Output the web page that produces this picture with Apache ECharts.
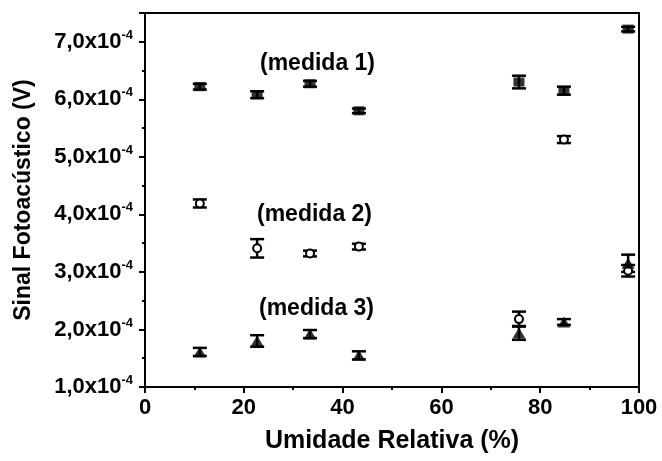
<!DOCTYPE html>
<html>
<head>
<meta charset="utf-8">
<script src="https://cdn.jsdelivr.net/npm/echarts@6/dist/echarts.min.js"></script>
<style>html,body{margin:0;padding:0;background:#fff}#c{width:662px;height:461px}</style>
</head>
<body>
<div id="c"></div>
<script>
// Relative humidity (%)
const humidity = [11.1, 22.7, 33.4, 43.3, 75.7, 84.8, 97.8];
// Photoacoustic signal, in units of 1e-4 V
const medida1 = [6.22, 6.08, 6.27, 5.80, 6.30, 6.15, 7.22];
const erro1   = [0.05, 0.06, 0.05, 0.04, 0.11, 0.07, 0.04];
const medida2 = [4.19, 3.41, 3.32, 3.44, 2.18, 5.30, 3.02];
const erro2   = [0.07, 0.16, 0.05, 0.05, 0.13, 0.06, 0.10];
const medida3 = [1.61, 1.80, 1.92, 1.55, 1.94, 2.13, 3.15];
const erro3   = [0.07, 0.10, 0.07, 0.07, 0.12, 0.05, 0.15];
const seriesLabels = ['(medida 1)', '(medida 2)', '(medida 3)'];
const xTitle = 'Umidade Relativa (%)';
const yTitle = 'Sinal Fotoacústico (V)';

const FONT = '"Liberation Sans", Arial, sans-serif';

function pts(vals) { return humidity.map((x, i) => [x, vals[i]]); }
function errs(vals, e) { return humidity.map((x, i) => [x, vals[i] - e[i], vals[i] + e[i]]); }

function errorSeries(vals, e, cap) {
  return {
    type: 'custom',
    data: errs(vals, e),
    z: 3,
    renderItem: function (params, api) {
      const x = api.value(0);
      const lo = api.coord([x, api.value(1)]);
      const hi = api.coord([x, api.value(2)]);
      const style = { stroke: '#000', lineWidth: 2.5 };
      return {
        type: 'group',
        children: [
          { type: 'line', shape: { x1: lo[0], y1: lo[1], x2: hi[0], y2: hi[1] }, style },
          { type: 'line', shape: { x1: lo[0] - cap, y1: lo[1], x2: lo[0] + cap, y2: lo[1] }, style },
          { type: 'line', shape: { x1: hi[0] - cap, y1: hi[1], x2: hi[0] + cap, y2: hi[1] }, style }
        ]
      };
    }
  };
}

const chart = echarts.init(document.getElementById('c'), null, { renderer: 'canvas' });
chart.setOption({
  animation: false,
  backgroundColor: '#fff',
  grid: { left: 145, right: 23, top: 13, bottom: 74, show: true, borderColor: '#000', borderWidth: 2, backgroundColor: 'transparent' },
  xAxis: {
    type: 'value', min: 0, max: 100, interval: 20,
    name: xTitle, nameLocation: 'middle', nameGap: 42,
    nameTextStyle: { fontFamily: FONT, fontWeight: 'bold', fontSize: 25, color: '#000' },
    axisLine: { show: true, lineStyle: { color: '#000', width: 2 } },
    axisTick: { show: true, length: 6, lineStyle: { color: '#000', width: 2 } },
    minorTick: { show: true, splitNumber: 2, length: 3, lineStyle: { color: '#000', width: 2 } },
    splitLine: { show: false },
    axisLabel: { fontFamily: FONT, fontWeight: 'bold', fontSize: 22, color: '#000', margin: 10 }
  },
  yAxis: {
    type: 'value', min: 1, max: 7.5, interval: 1,
    name: yTitle, nameLocation: 'middle', nameGap: 110,
    nameTextStyle: { fontFamily: FONT, fontWeight: 'bold', fontSize: 23, color: '#000' },
    axisLine: { show: true, lineStyle: { color: '#000', width: 2 } },
    axisTick: { show: true, length: 6, lineStyle: { color: '#000', width: 2 } },
    minorTick: { show: true, splitNumber: 2, length: 3, lineStyle: { color: '#000', width: 2 } },
    splitLine: { show: false },
    axisLabel: {
      showMaxLabel: false, margin: 12,
      formatter: v => v.toFixed(1).replace('.', ',') + 'x10{s|-4}',
      fontFamily: FONT, fontWeight: 'bold', fontSize: 22, color: '#000', lineHeight: 26,
      rich: { s: { fontFamily: FONT, fontWeight: 'bold', fontSize: 13, color: '#000', verticalAlign: 'top', lineHeight: 26, padding: [0, 0, 12, 0] } }
    }
  },
  graphic: [
    { type: 'text', left: 260, top: 52, style: { text: seriesLabels[0], font: 'bold 23px ' + FONT, fill: '#000' } },
    { type: 'text', left: 257, top: 203, style: { text: seriesLabels[1], font: 'bold 23px ' + FONT, fill: '#000' } },
    { type: 'text', left: 259, top: 297, style: { text: seriesLabels[2], font: 'bold 23px ' + FONT, fill: '#000' } }
  ],
  series: [
    errorSeries(medida1, erro1, 7),
    errorSeries(medida2, erro2, 7),
    errorSeries(medida3, erro3, 7),
    { type: 'scatter', data: pts(medida1), symbol: 'rect', symbolSize: [11, 9], z: 4,
      itemStyle: { color: '#000' } },
    { type: 'scatter', data: pts(medida2), symbol: 'circle', symbolSize: 8, z: 4,
      itemStyle: { color: '#fff', borderColor: '#000', borderWidth: 2, opacity: 1 } },
    { type: 'scatter', data: pts(medida3), symbol: 'triangle', symbolSize: [13, 11], z: 4,
      itemStyle: { color: '#000' } }
  ]
});
</script>
</body>
</html>
